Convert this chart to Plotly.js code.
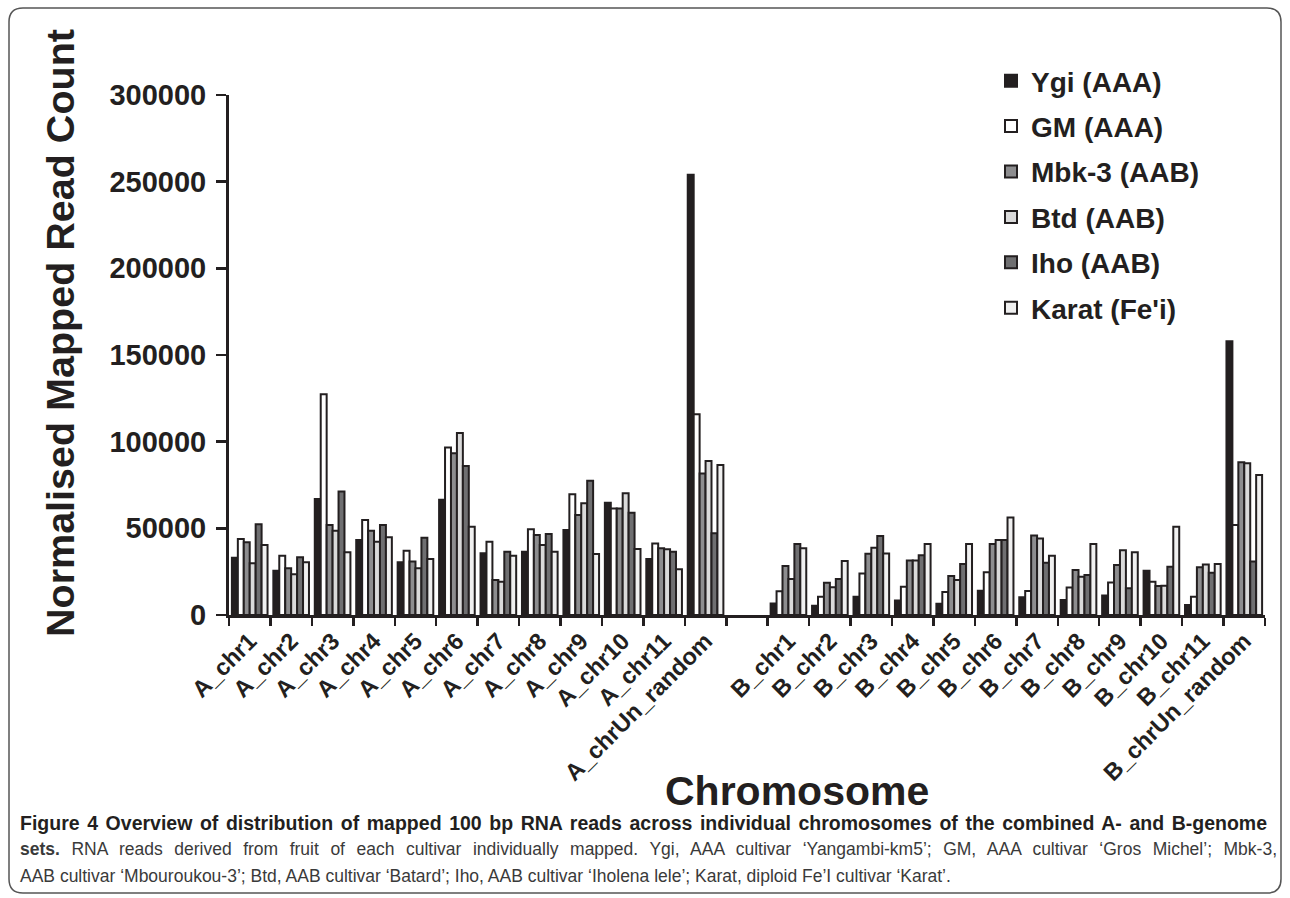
<!DOCTYPE html>
<html>
<head>
<meta charset="utf-8">
<script src="https://cdn.plot.ly/plotly-3.0.1.min.js"></script>
<style>html,body{margin:0;padding:0;background:#fff;}#chart{width:1290px;height:898px;}</style>
</head>
<body>
<div id="chart"></div>
<script>
// ---- data ----
const categories = ["A_chr1","A_chr2","A_chr3","A_chr4","A_chr5","A_chr6","A_chr7","A_chr8","A_chr9","A_chr10","A_chr11","A_chrUn_random"," ",
  "B_chr1","B_chr2","B_chr3","B_chr4","B_chr5","B_chr6","B_chr7","B_chr8","B_chr9","B_chr10","B_chr11","B_chrUn_random"];
const seriesNames = ["Ygi (AAA)","GM (AAA)","Mbk-3 (AAB)","Btd (AAB)","Iho (AAB)","Karat (Fe'i)"];
const ygi   = [33000,25600,66900,43300,30400,66500,35600,36500,49000,64800,32300,254000,null,6700,5400,10600,8300,6500,14000,10200,8700,11200,25600,5800,158000];
const gm    = [43800,34200,127300,54800,37100,96700,42300,49400,69600,61500,41300,115800,null,13700,10600,24000,16300,13300,24600,13800,15800,18800,19200,10600,51900];
const mbk3  = [41900,26900,51900,48600,30800,93300,20200,46200,57700,61500,38500,81700,null,28300,18600,35400,31500,22500,41000,45800,26000,28800,16700,27500,88100];
const btd   = [29800,23500,48600,42300,26900,105000,19200,40400,64400,70200,37900,88800,null,20800,16000,38800,31500,20200,43300,44200,22100,37300,16900,29200,87500];
const iho   = [52300,33300,71200,51900,44600,86000,36500,46700,77500,59000,36500,47100,null,41000,20800,45600,34400,29400,43300,30200,23100,15400,27900,24400,30800];
const karat = [40400,30400,36200,44800,32300,50900,34200,36500,35200,38100,26400,86500,null,38500,31200,35500,41000,41000,56300,34200,41000,36200,50900,29400,80800];
const yTitle = "Normalised Mapped Read Count";
const xTitle = "Chromosome";
const captionLines = [
  "<b>Figure 4 Overview of distribution of mapped 100 bp RNA reads across individual chromosomes of the combined A- and B-genome</b>",
  "<b>sets.</b> RNA reads derived from fruit of each cultivar individually mapped. Ygi, AAA cultivar \u2018Yangambi-km5\u2019; GM, AAA cultivar \u2018Gros Michel\u2019; Mbk-3,",
  "AAB cultivar \u2018Mbouroukou-3\u2019; Btd, AAB cultivar \u2018Batard\u2019; Iho, AAB cultivar \u2018Iholena lele\u2019; Karat, diploid Fe\u2019I cultivar \u2018Karat\u2019."
];

// ---- styling ----
const INK = '#231f20';
const fills = ['#231f20','#ffffff','#8d8d8f','#dadada','#6f6f71','#f0f0f0'];
const values = [ygi, gm, mbk3, btd, iho, karat];
const SANS = 'Arial, "Liberation Sans", sans-serif';

const W = 1290, H = 898;
const M = {l:229, r:25, t:95, b:283};
const PW = W - M.l - M.r, PH = H - M.t - M.b;
const px = x => (x - M.l) / PW;
const py = y => (H - M.b - y) / PH;

const traces = values.map((v, i) => ({
  type: 'bar', x: categories, y: v, name: seriesNames[i], legendgroup: 'g' + i,
  marker: {color: fills[i], line: {color: INK, width: 2}},
  hoverinfo: 'x+y+name'
}));

// rounded frame
const fx0 = 9, fy0 = 8, fx1 = 1281, fy1 = 893, rr = 14;
const framePath = `M ${px(fx0)} ${py(fy0+rr)} L ${px(fx0)} ${py(fy1-rr)} Q ${px(fx0)} ${py(fy1)} ${px(fx0+rr)} ${py(fy1)} L ${px(fx1-rr)} ${py(fy1)} Q ${px(fx1)} ${py(fy1)} ${px(fx1)} ${py(fy1-rr)} L ${px(fx1)} ${py(fy0+rr)} Q ${px(fx1)} ${py(fy0)} ${px(fx1-rr)} ${py(fy0)} L ${px(fx0+rr)} ${py(fy0)} Q ${px(fx0)} ${py(fy0)} ${px(fx0)} ${py(fy0+rr)} Z`;

const capY = [823, 849, 876];
const capSize = [19.5, 17.5, 17.5];
const annotations = [
  {xref:'paper', yref:'paper', x: px(797), y: py(791), xanchor:'center', yanchor:'middle', showarrow:false,
   text: xTitle, font:{family:SANS, size:41, weight:'bold', color:INK}},
  {xref:'paper', yref:'paper', x: px(60), y: py(333), xanchor:'center', yanchor:'middle', showarrow:false, textangle:-90,
   text: yTitle, font:{family:SANS, size:39.5, weight:'bold', color:INK}}
].concat(captionLines.map((t, i) => ({
  xref:'paper', yref:'paper', x: px(18), y: py(capY[i]), xanchor:'left', yanchor:'middle', showarrow:false, align:'left',
  text: t, font:{family:SANS, size:capSize[i], color: i === 0 ? INK : '#3a3a3a'}
})));

const layout = {
  width: W, height: H, margin: M,
  paper_bgcolor: '#fff', plot_bgcolor: '#fff',
  barmode: 'group', bargap: 0.14, bargroupgap: 0,
  font: {family: SANS, color: INK},
  showlegend: true,
  legend: {x: px(991), y: py(56), xanchor: 'left', yanchor: 'top', bgcolor: 'rgba(0,0,0,0)',
           font: {size: 28, weight: 'bold', color: INK}, tracegroupgap: 6, itemwidth: 30},
  xaxis: {type: 'category', categoryorder: 'array', categoryarray: categories, range: [-0.5, categories.length - 0.5],
          tickson: 'boundaries', ticks: 'outside', ticklen: 8, tickwidth: 2.5, tickcolor: INK,
          showline: true, linewidth: 3, linecolor: INK, showgrid: false, zeroline: false,
          tickangle: -45, tickfont: {size: 23.5, weight: 'bold', color: INK}, automargin: false, fixedrange: true},
  yaxis: {range: [0, 300000], dtick: 50000, tickformat: 'd', ticks: 'outside', ticklen: 10, tickwidth: 2.5, tickcolor: INK,
          showline: true, linewidth: 3, linecolor: INK, showgrid: false, zeroline: false, ticklabelstandoff: 4,
          tickfont: {size: 29, weight: 'bold', color: INK}, automargin: false, fixedrange: true},
  shapes: [{type: 'path', xref: 'paper', yref: 'paper', path: framePath, line: {color: '#555', width: 1.5}, layer: 'below'}],
  annotations: annotations
};

Plotly.newPlot('chart', traces, layout, {displayModeBar: false, staticPlot: true}).then(() => {
  // first two caption lines are justified to the full text width, as in the printed figure
  const fullWidth = {2: 1247, 3: 1257};
  Object.keys(fullWidth).forEach(idx => {
    const el = document.querySelector(`.annotation[data-index="${idx}"] text`);
    if (!el) return;
    const natural = el.getComputedTextLength();
    const spaces = (el.textContent.match(/ /g) || []).length;
    if (spaces && natural < fullWidth[idx]) el.style.wordSpacing = ((fullWidth[idx] - natural) / spaces) + 'px';
  });
});
</script>
</body>
</html>
